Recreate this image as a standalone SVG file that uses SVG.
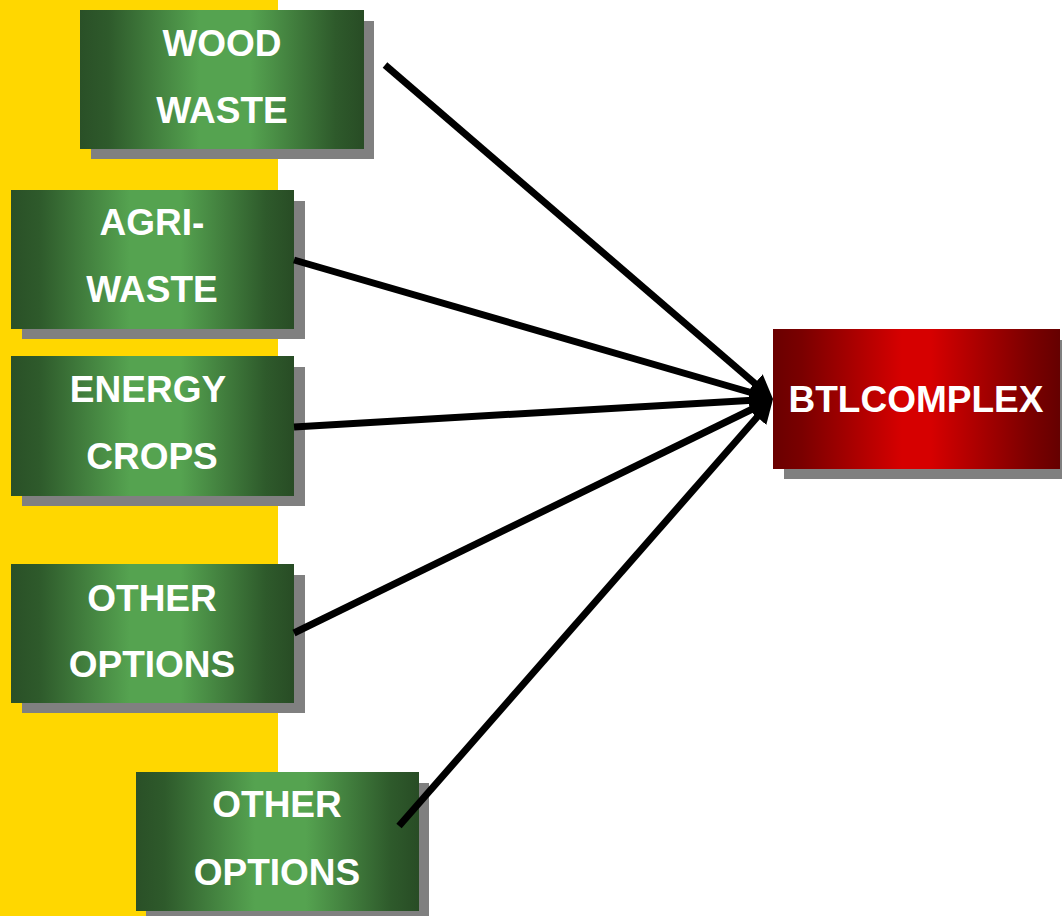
<svg xmlns="http://www.w3.org/2000/svg" width="1062" height="916" viewBox="0 0 1062 916">
<defs>
<linearGradient id="green" x1="0" y1="0" x2="1" y2="0">
<stop offset="0" stop-color="#2a5027"/>
<stop offset="0.1" stop-color="#2e5a2b"/>
<stop offset="0.42" stop-color="#55a350"/>
<stop offset="0.6" stop-color="#55a350"/>
<stop offset="0.9" stop-color="#2e5a2b"/>
<stop offset="1" stop-color="#284c25"/>
</linearGradient>
<linearGradient id="red" x1="0" y1="0" x2="1" y2="0">
<stop offset="0" stop-color="#6a0000"/>
<stop offset="0.1" stop-color="#7a0000"/>
<stop offset="0.45" stop-color="#d60000"/>
<stop offset="0.55" stop-color="#d60000"/>
<stop offset="0.9" stop-color="#7a0000"/>
<stop offset="1" stop-color="#650000"/>
</linearGradient>
<marker id="head" markerUnits="userSpaceOnUse" markerWidth="26" markerHeight="26" refX="8" refY="12" orient="auto" viewBox="0 0 26 26">
<path d="M0,0 L24,12 L0,24 z" fill="#000"/>
</marker>
</defs>
<style>
.shadow{fill:#808080}
.gbox{fill:url(#green)}
.rbox{fill:url(#red)}
.lbl{font-family:"Liberation Sans",Arial,sans-serif;font-weight:bold;font-size:37px;fill:#fff;text-anchor:middle}
.conn{stroke:#000;stroke-width:7;fill:none;marker-end:url(#head)}
</style>
<rect x="0" y="0" width="1062" height="916" fill="#fff"/>
<rect x="0" y="0" width="278" height="916" fill="#FFD700"/>

<g id="wood-waste">
<rect class="shadow" x="91" y="21" width="283" height="138"/>
<rect class="gbox" x="80" y="10" width="284" height="139"/>
<text class="lbl" x="222" y="56">WOOD</text>
<text class="lbl" x="222" y="123">WASTE</text>
</g>
<g id="agri-waste">
<rect class="shadow" x="22" y="201" width="283" height="138"/>
<rect class="gbox" x="11" y="190" width="283" height="139"/>
<text class="lbl" x="152" y="235">AGRI-</text>
<text class="lbl" x="152" y="302">WASTE</text>
</g>
<g id="energy-crops">
<rect class="shadow" x="22" y="367" width="283" height="139"/>
<rect class="gbox" x="11" y="356" width="283" height="140"/>
<text class="lbl" x="148" y="402">ENERGY</text>
<text class="lbl" x="152" y="469">CROPS</text>
</g>
<g id="other-options-1">
<rect class="shadow" x="22" y="575" width="283" height="138"/>
<rect class="gbox" x="11" y="564" width="283" height="139"/>
<text class="lbl" x="152" y="611">OTHER</text>
<text class="lbl" x="152" y="677">OPTIONS</text>
</g>
<g id="other-options-2">
<rect class="shadow" x="146" y="783" width="283" height="140"/>
<rect class="gbox" x="136" y="772" width="283" height="139"/>
<text class="lbl" x="277" y="817">OTHER</text>
<text class="lbl" x="277" y="885">OPTIONS</text>
</g>
<g id="btl-complex">
<rect class="shadow" x="784" y="340" width="278" height="139"/>
<rect class="rbox" x="773" y="329" width="287" height="140"/>
<text class="lbl" x="916" y="412">BTLCOMPLEX</text>
</g>

<g id="connectors">
<line class="conn" x1="385" y1="65" x2="760.9" y2="388.6"/>
<line class="conn" x1="294" y1="260" x2="757.6" y2="394.5"/>
<line class="conn" x1="294" y1="427" x2="757" y2="399.9"/>
<line class="conn" x1="294" y1="633" x2="758.6" y2="406"/>
<line class="conn" x1="399" y1="826" x2="762.5" y2="411"/>
</g>
</svg>
